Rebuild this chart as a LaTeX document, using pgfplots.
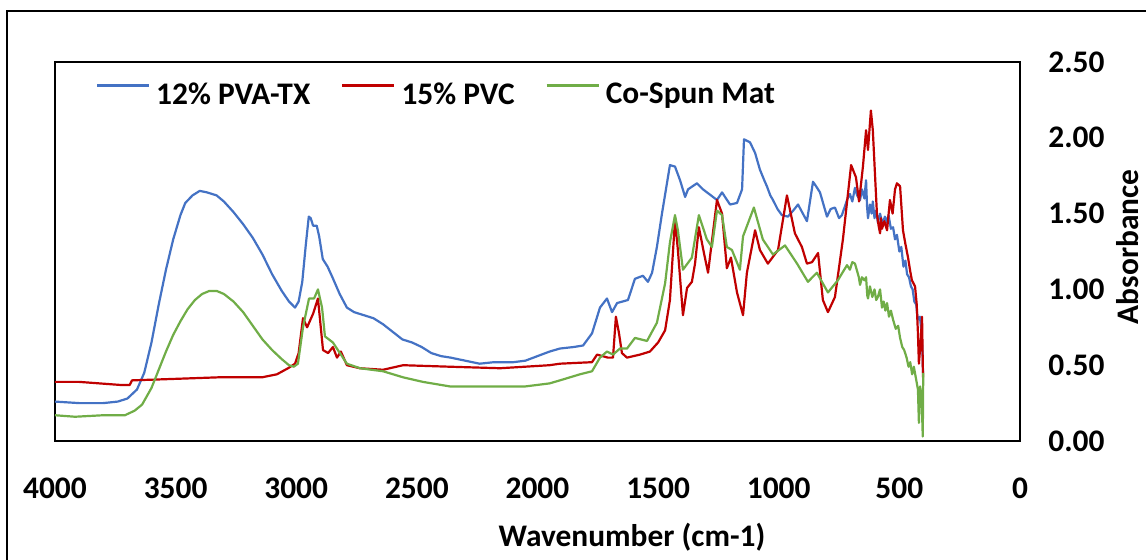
\documentclass[border=0pt]{standalone}
\usepackage{pgfplots}
\pgfplotsset{compat=1.18}
\usepackage{fontspec}
\setmainfont{Carlito}
\definecolor{cblue}{HTML}{4472C4}
\definecolor{cred}{HTML}{C00000}
\definecolor{cgreen}{HTML}{70AD47}
\newcommand{\cfont}{\fontsize{15.7}{18.8}\selectfont\bfseries}
\begin{document}
\begin{tikzpicture}
\useasboundingbox (0,0) rectangle (573pt,279.5pt);
\clip (0,0) rectangle (573pt,279.5pt);
\draw[line width=0.8pt] (3.5pt,-10pt) rectangle (600pt,274pt);
\begin{axis}[
  at={(27.5pt,59pt)}, anchor=south west,
  scale only axis, width=482.5pt, height=189.5pt,
  xmin=0, xmax=4000, x dir=reverse, ymin=0, ymax=2.5,
  xtick={0,500,1000,1500,2000,2500,3000,3500,4000},
  ytick={0,0.5,1,1.5,2,2.5},
  yticklabel pos=right,
  major tick length=0pt,
  axis line style={line width=1.2pt},
  tick label style={font=\cfont, inner sep=0pt},
  /pgf/number format/assume math mode=true,
  xticklabel style={/pgf/number format/set thousands separator={}, anchor=north, yshift=-18.5pt},
  yticklabel style={/pgf/number format/.cd, fixed, fixed zerofill, precision=2, /tikz/.cd, anchor=west, xshift=14pt},
  xlabel={Wavenumber (cm-1)},
  xlabel style={font=\cfont, at={(axis description cs:0.598,-0.253)}, anchor=center, inner sep=0pt},
  ylabel={Absorbance},
  ylabel style={font=\cfont, at={(axis description cs:1.1225,0.512)}, anchor=base, inner sep=0pt},
  legend style={at={(axis description cs:0.0425,0.913)}, anchor=west, draw=none, fill=none, inner sep=0pt, outer sep=0pt,
    font=\cfont,
    /tikz/every odd column/.append style={column sep=3pt},
    /tikz/every even column/.append style={column sep=15.5pt},
    nodes={inner sep=0pt}},
  legend columns=3,
  legend cell align=left,
  legend image code/.code={\draw[#1] (0pt,4.7pt) -- (26pt,4.7pt);},
  every axis plot/.append style={line width=1.1pt, line join=round},
]
\addplot[cblue] table {
4000 0.26
3900 0.25
3800 0.25
3740 0.26
3700 0.28
3660 0.34
3630 0.45
3600 0.65
3570 0.90
3540 1.13
3510 1.33
3480 1.49
3460 1.57
3430 1.62
3400 1.65
3370 1.64
3330 1.62
3300 1.58
3260 1.51
3220 1.43
3180 1.34
3140 1.23
3100 1.10
3060 0.99
3030 0.92
3005 0.88
2990 0.92
2975 1.05
2960 1.30
2948 1.48
2940 1.47
2930 1.42
2915 1.42
2905 1.35
2890 1.20
2870 1.15
2850 1.08
2820 0.97
2790 0.88
2760 0.85
2720 0.83
2680 0.81
2640 0.77
2600 0.72
2560 0.67
2520 0.65
2480 0.62
2440 0.58
2400 0.56
2360 0.55
2300 0.53
2240 0.51
2180 0.52
2100 0.52
2050 0.53
2000 0.56
1950 0.59
1907 0.61
1850 0.62
1811 0.63
1774 0.71
1741 0.88
1712 0.94
1691 0.85
1670 0.91
1625 0.93
1596 1.07
1563 1.09
1542 1.05
1525 1.11
1505 1.28
1484 1.50
1451 1.82
1430 1.81
1409 1.72
1388 1.61
1376 1.66
1339 1.70
1314 1.66
1256 1.59
1235 1.64
1202 1.56
1173 1.57
1152 1.66
1144 1.99
1119 1.97
1098 1.90
1078 1.79
1060 1.72
1049 1.68
1035 1.62
1024 1.59
1005 1.53
987 1.49
962 1.48
940 1.52
920 1.56
900 1.50
883 1.45
858 1.71
845 1.68
829 1.64
800 1.48
785 1.53
767 1.54
750 1.47
738 1.49
717 1.59
705 1.63
695 1.58
684 1.67
675 1.62
663 1.59
655 1.66
645 1.60
638 1.72
634 1.55
630 1.47
622 1.56
615 1.50
610 1.58
603 1.47
596 1.52
589 1.44
580 1.50
570 1.43
560 1.48
551 1.44
545 1.49
535 1.40
526 1.41
518 1.33
510 1.36
500 1.25
492 1.28
483 1.15
475 1.19
468 1.10
460 1.08
452 1.02
445 1.00
438 0.92
430 0.90
424 0.80
415 0.82
408 0.72
404 0.58
402 0.45
};
\addlegendentry{12\% PVA-TX}
\addplot[cred] table {
4000 0.39
3900 0.39
3731 0.37
3690 0.37
3681 0.40
3500 0.41
3324 0.42
3142 0.42
3080 0.44
3034 0.48
3005 0.51
2990 0.58
2972 0.81
2955 0.75
2930 0.84
2910 0.94
2889 0.60
2868 0.58
2848 0.62
2831 0.55
2815 0.59
2790 0.50
2736 0.48
2640 0.47
2557 0.50
2363 0.49
2155 0.48
1950 0.50
1907 0.51
1774 0.52
1753 0.57
1708 0.55
1687 0.55
1675 0.82
1662 0.71
1650 0.58
1629 0.55
1575 0.57
1534 0.59
1500 0.65
1471 0.73
1451 0.93
1430 1.46
1418 1.26
1397 0.83
1380 1.01
1360 1.05
1347 1.17
1331 1.41
1310 1.24
1293 1.11
1256 1.59
1235 1.50
1215 1.14
1198 1.21
1173 0.98
1148 0.83
1132 1.11
1098 1.39
1078 1.26
1045 1.17
1003 1.26
966 1.62
933 1.37
904 1.28
883 1.17
862 1.18
837 1.24
817 0.93
796 0.85
767 0.95
734 1.33
700 1.82
680 1.74
667 1.58
651 1.81
638 2.05
630 1.92
618 2.18
610 2.05
593 1.50
586 1.42
580 1.37
576 1.47
572 1.40
562 1.45
551 1.39
539 1.59
528 1.50
518 1.66
510 1.70
497 1.68
485 1.39
475 1.30
464 1.21
455 1.12
448 1.06
435 1.02
428 0.90
423 0.71
419 0.51
412 0.65
406 0.82
402 0.42
};
\addlegendentry{15\% PVC}
\addplot[cgreen] table {
4000 0.17
3917 0.16
3800 0.17
3710 0.17
3670 0.20
3639 0.24
3600 0.35
3570 0.47
3540 0.59
3510 0.70
3480 0.79
3450 0.87
3420 0.93
3390 0.97
3360 0.99
3330 0.99
3300 0.97
3260 0.92
3220 0.85
3180 0.76
3140 0.67
3100 0.60
3060 0.54
3030 0.50
3010 0.49
2993 0.51
2972 0.75
2947 0.94
2926 0.94
2910 1.00
2893 0.88
2881 0.69
2848 0.65
2819 0.58
2790 0.51
2736 0.48
2640 0.46
2557 0.42
2475 0.39
2363 0.36
2200 0.36
2050 0.36
1950 0.38
1907 0.40
1824 0.44
1774 0.46
1741 0.55
1712 0.59
1687 0.57
1658 0.61
1629 0.61
1596 0.68
1546 0.66
1505 0.78
1471 1.04
1451 1.31
1430 1.49
1418 1.39
1397 1.13
1360 1.21
1331 1.49
1298 1.33
1277 1.28
1256 1.52
1235 1.49
1215 1.28
1194 1.26
1161 1.13
1148 1.35
1103 1.54
1066 1.33
1024 1.23
974 1.29
924 1.17
879 1.05
842 1.11
796 0.98
755 1.06
717 1.16
705 1.13
695 1.18
684 1.17
675 1.12
668 1.08
663 1.03
655 1.08
645 1.06
638 1.08
633 0.96
630 0.94
622 1.02
612 0.95
603 1.00
596 0.93
589 0.95
580 1.00
572 0.88
565 0.92
558 0.86
551 0.91
543 0.82
535 0.86
526 0.80
515 0.74
505 0.76
497 0.68
488 0.62
480 0.60
470 0.55
462 0.49
455 0.52
447 0.44
440 0.49
432 0.42
423 0.34
419 0.12
414 0.36
408 0.30
403 0.03
401 0.45
};
\addlegendentry{Co-Spun Mat}
\end{axis}
\end{tikzpicture}
\end{document}
